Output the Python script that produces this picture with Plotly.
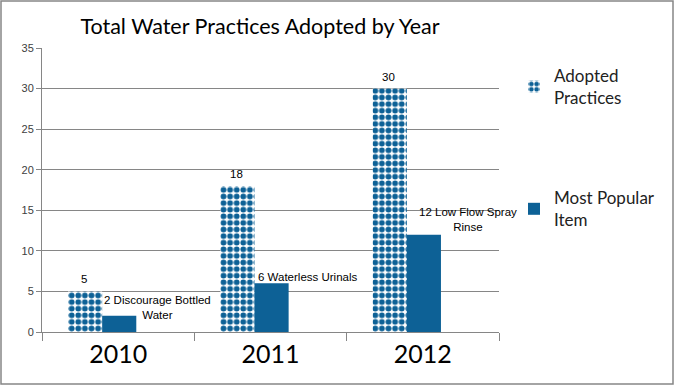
import plotly.graph_objects as go

years = ["2010", "2011", "2012"]
adopted = [5, 18, 30]
popular = [2, 6, 12]
popular_items = ["Discourage Bottled<br>Water", "Waterless Urinals", "Low Flow Spray<br>Rinse"]

# styling
BLUE = "#0d6196"
GRID = "#868686"
W, H = 674, 385
ML, MR, MT, MB = 42, 175, 48, 53
PW, PH = W - ML - MR, H - MT - MB
pop_label_shift = [(39, 8), (37, 6), (45, 15)]

fig = go.Figure()
fig.add_trace(go.Bar(
    x=years, y=adopted, name="Adopted<br>Practices",
    width=0.224, offset=-0.329,
    marker=dict(color="white", line=dict(width=0),
                pattern=dict(shape=".", size=6.6, solidity=0.6,
                             fgcolor=BLUE, bgcolor="white", fillmode="replace")),
    legendgroup="a",
))
fig.add_trace(go.Bar(
    x=years, y=popular, name="Most Popular<br>Item",
    width=0.224, offset=-0.105,
    marker=dict(color=BLUE, line=dict(width=0)),
    legendgroup="b",
))

anns = []
for i, v in enumerate(adopted):
    anns.append(dict(x=i, y=v, xref="x", yref="y", text=str(v), showarrow=False,
                     xshift=-34, yshift=12, yanchor="middle",
                     font=dict(family="Liberation Sans", size=11.5, color="#000")))
for i, (v, item) in enumerate(zip(popular, popular_items)):
    dx, dy = pop_label_shift[i]
    anns.append(dict(x=i, y=v, xref="x", yref="y", text=f"{v} {item}", showarrow=False,
                     xshift=dx, yshift=dy, yanchor="middle", align="center",
                     font=dict(family="Liberation Sans", size=11.5, color="#000")))

fig.update_layout(
    width=W, height=H,
    margin=dict(l=ML, r=MR, t=MT, b=MB, pad=0, autoexpand=False),
    paper_bgcolor="white", plot_bgcolor="white",
    title=dict(text="Total Water Practices Adopted by Year", x=260 / W, xanchor="center",
               y=1 - 26 / H, yanchor="middle", automargin=False,
               font=dict(family="Lato", size=21.5, color="#000")),
    barmode="overlay",
    showlegend=True,
    legend=dict(x=(514 - ML) / PW, y=1 - (58 - MT) / PH, xanchor="left", yanchor="top",
                font=dict(family="Lato", size=17, color="#222"),
                tracegroupgap=75, traceorder="grouped", bgcolor="rgba(0,0,0,0)"),
    annotations=anns,
    shapes=[dict(type="rect", xref="paper", yref="paper",
                 x0=-(ML - 1) / PW, x1=1 + (MR - 1) / PW,
                 y0=-(MB - 1) / PH, y1=1 + (MT - 1) / PH,
                 line=dict(color=GRID, width=1.5), layer="below")],
)
fig.update_yaxes(range=[0, 35], dtick=5, showgrid=True, gridcolor=GRID, gridwidth=1,
                 showline=True, linecolor=GRID, linewidth=1, ticks="outside", ticklen=5,
                 tickcolor=GRID, tickfont=dict(family="Liberation Sans", size=11, color="#404040"),
                 zeroline=False, automargin=False)
fig.update_xaxes(type="category", categoryorder="array", categoryarray=years,
                 range=[-0.5, len(years) - 0.5],
                 showline=True, linecolor=GRID, linewidth=1, ticks="outside",
                 ticklen=8, tickson="boundaries", tickcolor=GRID, showgrid=False, tickangle=0,
                 automargin=False, tickfont=dict(family="Lato", size=25, color="#000"))

fig.write_html("out.html", config={"displayModeBar": False},
               post_script="document.body.style.margin='0';")
